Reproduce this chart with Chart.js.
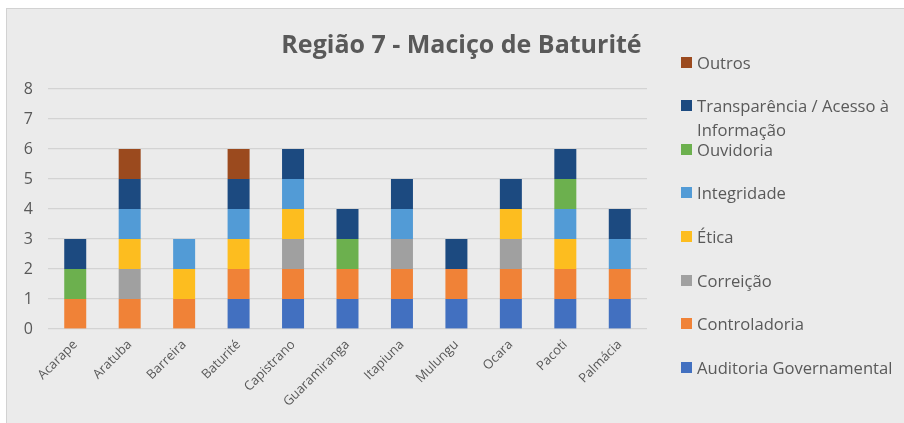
<!DOCTYPE html>
<html>
<head>
<meta charset="utf-8">
<script src="https://cdn.jsdelivr.net/npm/chart.js@4.4.1/dist/chart.umd.min.js"></script>
<style>
  html, body { margin: 0; padding: 0; background: #ffffff; }
  body { width: 904px; height: 423px; position: relative; overflow: hidden; font-family: "Open Sans", sans-serif; }
  #panel { position: absolute; left: 6px; top: 8px; width: 898px; height: 415px; background: #ebebeb;
           border-left: 1px solid #d2d2d2; border-top: 1px solid #d2d2d2; box-sizing: border-box; }
  #wrap { position: absolute; left: 0; top: 0; width: 897px; height: 414px; }
  #legend { position: absolute; left: 0; top: 0; width: 100%; height: 100%; pointer-events: none; }
  .li { position: absolute; left: 674px; font-size: 16.6px; line-height: 23.5px; color: #595959; white-space: nowrap; }
  .li .box { position: absolute; left: 0; top: 6px; width: 11px; height: 11px; }
  .li .txt { position: absolute; left: 16px; top: 0; }
</style>
</head>
<body>
<div id="panel">
  <div id="wrap"><canvas id="c"></canvas></div>
  <div id="legend"></div>
</div>
<script>
const categories = ["Acarape", "Aratuba", "Barreira", "Baturité", "Capistrano", "Guaramiranga", "Itapiuna", "Mulungu", "Ocara", "Pacoti", "Palmácia"];
const auditoria      = [0, 0, 0, 1, 1, 1, 1, 1, 1, 1, 1];
const controladoria  = [1, 1, 1, 1, 1, 1, 1, 1, 1, 1, 1];
const correicao      = [0, 1, 0, 0, 1, 0, 1, 0, 1, 0, 0];
const etica          = [0, 1, 1, 1, 1, 0, 0, 0, 1, 1, 0];
const integridade    = [0, 1, 1, 1, 1, 0, 1, 0, 0, 1, 1];
const ouvidoria      = [1, 0, 0, 0, 0, 1, 0, 0, 0, 1, 0];
const transparencia  = [1, 1, 0, 1, 1, 1, 1, 1, 1, 1, 1];
const outros         = [0, 1, 0, 1, 0, 0, 0, 0, 0, 0, 0];
const yTicks = [0, 1, 2, 3, 4, 5, 6, 7, 8];
const seriesNames = ["Auditoria Governamental", "Controladoria", "Correição", "Ética", "Integridade", "Ouvidoria", "Transparência / Acesso à Informação", "Outros"];
const seriesColors = ["#4270c0", "#f08237", "#a0a0a0", "#fdbd1f", "#529bd6", "#6cb04e", "#1c4a80", "#9b4a1e"];
const seriesValues = [auditoria, controladoria, correicao, etica, integridade, ouvidoria, transparencia, outros];
const titleText = "Região 7 - Maciço de Baturité";

const TEXT = "#595959";

const datasets = seriesNames.map((n, i) => ({
  label: n,
  data: seriesValues[i],
  backgroundColor: seriesColors[i],
  borderWidth: 0,
  barPercentage: 0.404,
  categoryPercentage: 1.0,
  yAxisID: 'y'
}));

const htmlLegend = {
  id: 'htmlLegend',
  afterUpdate(chart) {
    const el = document.getElementById('legend');
    el.innerHTML = '';
    const items = chart.options.plugins.legend.labels.generateLabels(chart).slice().reverse();
    const top0 = 49.5 - 8, step = 43.6;
    items.forEach((it, k) => {
      const d = document.createElement('div');
      d.className = 'li';
      d.style.top = (top0 + k * step) + 'px';
      const b = document.createElement('span');
      b.className = 'box';
      b.style.background = it.fillStyle;
      const t = document.createElement('span');
      t.className = 'txt';
      if (it.text.indexOf(' Informação') > 0) {
        const parts = it.text.split(' Informação');
        t.appendChild(document.createTextNode(parts[0]));
        t.appendChild(document.createElement('br'));
        t.appendChild(document.createTextNode('Informação'));
      } else {
        t.textContent = it.text;
      }
      d.appendChild(b); d.appendChild(t);
      el.appendChild(d);
    });
  }
};

new Chart(document.getElementById('c'), {
  type: 'bar',
  data: { labels: categories, datasets },
  plugins: [htmlLegend],
  options: {
    responsive: true,
    maintainAspectRatio: false,
    animation: false,
    devicePixelRatio: 1,
    layout: { padding: { left: 12, right: 0, top: 0, bottom: 0 } },
    plugins: {
      legend: { display: false },
      tooltip: { enabled: false },
      title: {
        display: true,
        text: titleText,
        color: TEXT,
        font: { family: "Open Sans", size: 25, weight: 'bold', lineHeight: 1.2 },
        padding: { top: 22, bottom: 28 }
      }
    },
    scales: {
      x: {
        stacked: true,
        grid: { display: false, drawTicks: false },
        border: { display: false },
        ticks: {
          color: TEXT,
          font: { family: "Open Sans", size: 13 },
          maxRotation: 45,
          minRotation: 45,
          padding: 8,
          autoSkip: false
        },
        afterFit(s) { s.height = 94; }
      },
      y: {
        stacked: true,
        min: 0,
        max: 8,
        afterBuildTicks(s) { s.ticks = yTicks.map(v => ({ value: v })); },
        grid: { color: '#d3d3d3', lineWidth: 1.2, drawTicks: false },
        border: { display: false },
        ticks: {
          color: TEXT,
          font: { family: "Open Sans", size: 16 },
          padding: 15
        },
        afterFit(s) { s.width = 29; }
      },
      spacer: {
        type: 'linear',
        position: 'right',
        display: true,
        grid: { display: false, drawTicks: false },
        border: { display: false },
        ticks: { display: false },
        afterFit(s) { s.width = 257; }
      }
    }
  }
});
</script>
</body>
</html>
